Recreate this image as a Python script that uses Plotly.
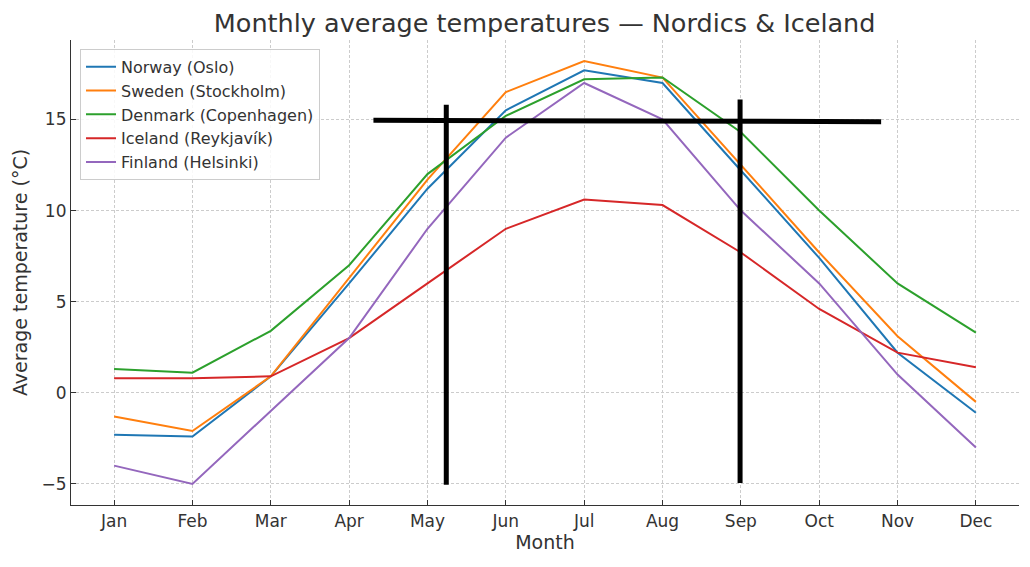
import plotly.graph_objects as go

months = ["Jan", "Feb", "Mar", "Apr", "May", "Jun", "Jul", "Aug", "Sep", "Oct", "Nov", "Dec"]
norway = [-2.3, -2.4, 0.9, 6.0, 11.2, 15.5, 17.7, 17.0, 12.2, 7.4, 2.2, -1.1]
sweden = [-1.3, -2.1, 0.9, 6.3, 11.7, 16.5, 18.2, 17.3, 12.5, 7.7, 3.1, -0.5]
denmark = [1.3, 1.1, 3.4, 7.0, 12.0, 15.2, 17.2, 17.3, 14.3, 10.0, 6.0, 3.3]
iceland = [0.8, 0.8, 0.9, 3.0, 6.0, 9.0, 10.6, 10.3, 7.7, 4.6, 2.2, 1.4]
finland = [-4.0, -5.0, -1.0, 3.0, 9.0, 14.0, 17.0, 15.0, 10.0, 6.0, 1.0, -3.0]

series_names = ["Norway (Oslo)", "Sweden (Stockholm)", "Denmark (Copenhagen)",
                "Iceland (Reykjavík)", "Finland (Helsinki)"]
series_values = [norway, sweden, denmark, iceland, finland]
colors = ["#1f77b4", "#ff7f0e", "#2ca02c", "#d62728", "#9467bd"]

y_tick_vals = [-5, 0, 5, 10, 15]
y_tick_text = ["−5", "0", "5", "10", "15"]

# hand-drawn overlay strokes (x in month index, y in °C)
h_stroke_x = [3.31, 9.79]
h_stroke_y = [14.95, 14.88]
v1_stroke_x = [4.24, 4.24]
v1_stroke_y = [15.8, -5.05]
v2_stroke_x = [7.99, 7.99]
v2_stroke_y = [16.1, -4.95]

x_idx = list(range(len(months)))

fig = go.Figure()
for name, vals, col in zip(series_names, series_values, colors):
    fig.add_trace(go.Scatter(x=x_idx, y=vals, mode="lines", name=name,
                             line=dict(color=col, width=2)))

for xs, ys in [(h_stroke_x, h_stroke_y), (v1_stroke_x, v1_stroke_y), (v2_stroke_x, v2_stroke_y)]:
    fig.add_shape(type="line", xref="x", yref="y", x0=xs[0], x1=xs[1], y0=ys[0], y1=ys[1],
                  line=dict(color="black", width=5), layer="above")

grid_dash = "3px,2px"
fig.update_layout(
    width=1030, height=567,
    paper_bgcolor="white", plot_bgcolor="white",
    font=dict(family="DejaVu Sans", color="#333333", size=14),
    title=dict(text="Monthly average temperatures — Nordics & Iceland",
               x=0.521, xanchor="center", y=0.974, yanchor="middle",
               font=dict(size=25.5, color="#333333")),
    margin=dict(l=63, r=19, t=32, b=70, autoexpand=False),
    showlegend=True,
    legend=dict(x=0.0095, y=0.981, xanchor="left", yanchor="top",
                bgcolor="rgba(255,255,255,0.85)", bordercolor="#cccccc", borderwidth=1,
                font=dict(size=16, color="#333333"), tracegroupgap=0, itemwidth=30),
    xaxis=dict(range=[-0.55, 11.55], tickmode="array", tickvals=x_idx, ticktext=months,
               showgrid=True, gridcolor="#cccccc", griddash=grid_dash, gridwidth=1,
               showline=True, linecolor="#333333", linewidth=1.2, mirror=False,
               ticks="inside", ticklen=5, tickcolor="#333333", zeroline=False,
               tickfont=dict(size=17), automargin=False,
               title=dict(text="Month", font=dict(size=19), standoff=6)),
    yaxis=dict(range=[-6.16, 19.36], tickmode="array", tickvals=y_tick_vals,
               ticktext=y_tick_text,
               showgrid=True, gridcolor="#cccccc", griddash=grid_dash, gridwidth=1,
               showline=True, linecolor="#333333", linewidth=1.2, mirror=False,
               ticks="inside", ticklen=5, tickcolor="#333333", zeroline=False,
               tickfont=dict(size=17), automargin=False,
               title=dict(text="Average temperature (°C)", font=dict(size=19), standoff=8)),
)

fig.write_html("out.html")
